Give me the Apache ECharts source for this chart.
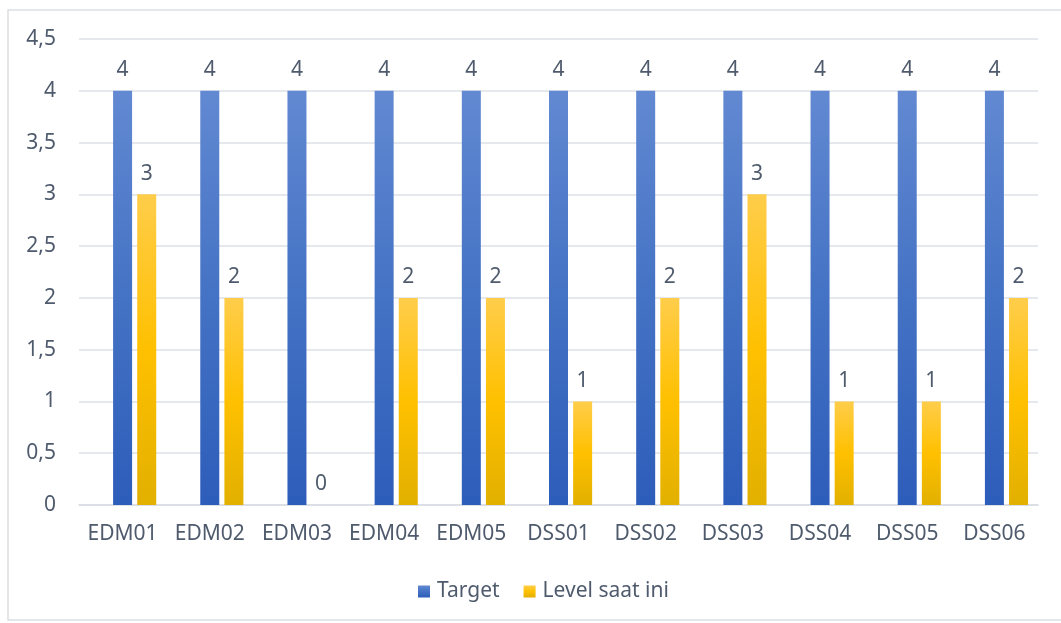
<!DOCTYPE html>
<html>
<head>
<meta charset="utf-8">
<script src="https://cdn.jsdelivr.net/npm/echarts@6/dist/echarts.min.js"></script>
<style>html,body{margin:0;padding:0;background:#fff;}#c{width:1061px;height:623px;}</style>
</head>
<body>
<div id="c"></div>
<script>
const categories = ['EDM01','EDM02','EDM03','EDM04','EDM05','DSS01','DSS02','DSS03','DSS04','DSS05','DSS06'];
const targetValues = [4,4,4,4,4,4,4,4,4,4,4];
const levelValues = [3,2,0,2,2,1,2,3,1,1,2];
const spacerValues = [null,null,null,null,null,null,null,null,null,null,null];
const yTicks = [0,0.5,1,1.5,2,2.5,3,3.5,4,4.5];

const textColor = '#4f5b6d';
const font = '"Noto Sans", "Open Sans", sans-serif';
const chart = echarts.init(document.getElementById('c'));
const labelCfg = {show:true, position:'top', distance:10, color:textColor, fontSize:21, fontFamily:font};
chart.setOption({
  animation:false,
  backgroundColor:'#fff',
  graphic:[{type:'rect', shape:{x:8,y:10,width:1070,height:610}, style:{fill:'none', stroke:'#dcdfe4', lineWidth:1.5}, silent:true}],
  grid:{left:79, right:23, top:39, bottom:118, containLabel:false},
  legend:{data:['Target','Level saat ini'], bottom:16, left:413, itemWidth:12, itemHeight:12, itemGap:24, icon:'rect',
    textStyle:{color:textColor, fontSize:21, fontFamily:font, padding:[0,0,0,2]}},
  xAxis:{type:'category', data:categories,
    axisLine:{lineStyle:{color:'#d9dde3', width:1.5}}, axisTick:{show:false},
    axisLabel:{color:textColor, fontSize:21, fontFamily:font, margin:19, interval:0}},
  yAxis:{type:'value', min:0, max:4.5, interval:0.5,
    axisLine:{show:false}, axisTick:{show:false},
    splitLine:{lineStyle:{color:'#dde1e7', width:1.5}},
    axisLabel:{color:textColor, fontSize:21, fontFamily:font, margin:23,
      formatter:v=>String(v).replace('.',',')}},
  series:[
    {name:'spacer', type:'bar', data:spacerValues, barWidth:19, barGap:'27%', silent:true, itemStyle:{color:'transparent'}},
    {name:'Target', type:'bar', data:targetValues, barWidth:19, barGap:'27%', label:labelCfg,
      itemStyle:{color:new echarts.graphic.LinearGradient(0,0,0,1,[{offset:0,color:'#6289d2'},{offset:0.5,color:'#4472c4'},{offset:1,color:'#2d5dba'}])}},
    {name:'Level saat ini', type:'bar', data:levelValues, barWidth:19, barGap:'27%', label:labelCfg,
      itemStyle:{color:new echarts.graphic.LinearGradient(0,0,0,1,[{offset:0,color:'#ffcd4a'},{offset:0.5,color:'#ffc000'},{offset:1,color:'#e2b000'}])}}
  ]
});
</script>
</body>
</html>
